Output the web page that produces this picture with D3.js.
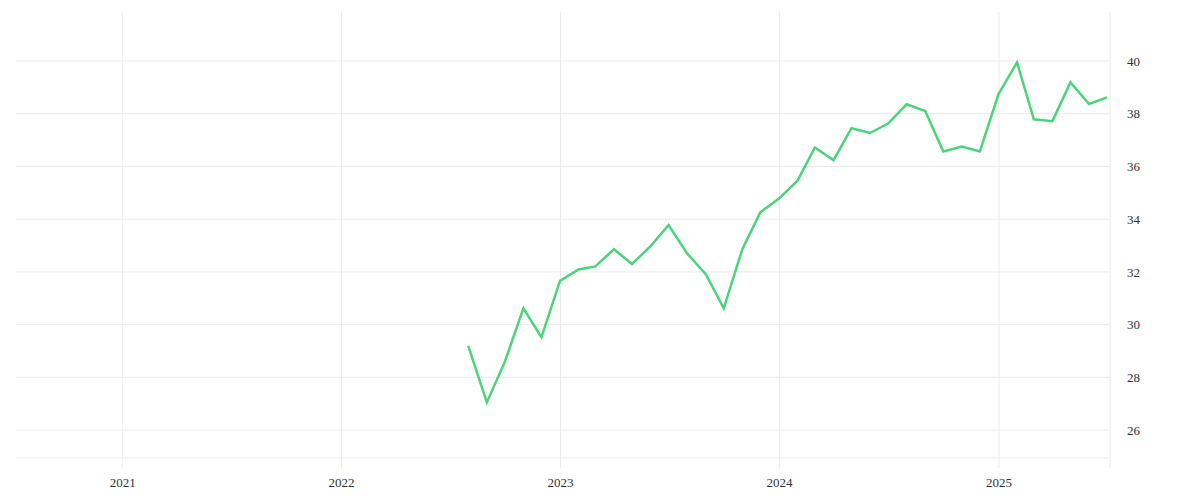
<!DOCTYPE html>
<html>
<head>
<meta charset="utf-8">
<script src="https://cdn.jsdelivr.net/npm/d3@7"></script>
<style>
  body { margin: 0; background: #fff; }
  .tick text { font-family: "Liberation Serif", serif; font-size: 13px; fill: #333; }
</style>
</head>
<body>
<div id="chart"></div>
<script>
//size of the svg
var widthSVG = 1200;
var heightSVG = 500;
//plot area edges (plotTop, not "top": that name is taken by window.top)
var plotLeft = 16, plotRight = 1110, plotTop = 12, plotBottom = 458;

//monthly values, Aug 2022 - Jul 2025
var months = ["2022-08","2022-09","2022-10","2022-11","2022-12",
  "2023-01","2023-02","2023-03","2023-04","2023-05","2023-06","2023-07","2023-08","2023-09","2023-10","2023-11","2023-12",
  "2024-01","2024-02","2024-03","2024-04","2024-05","2024-06","2024-07","2024-08","2024-09","2024-10","2024-11","2024-12",
  "2025-01","2025-02","2025-03","2025-04","2025-05","2025-06","2025-07"];
var values = [29.19, 27.05, 28.59, 30.62, 29.52,
  31.66, 32.09, 32.21, 32.86, 32.30, 32.98, 33.78, 32.70, 31.91, 30.62, 32.86, 34.26,
  34.78, 35.46, 36.72, 36.24, 37.45, 37.27, 37.63, 38.36, 38.10, 36.57, 36.76, 36.57,
  38.74, 39.95, 37.79, 37.72, 39.19, 38.37, 38.62];
var yTicks = [26, 28, 30, 32, 34, 36, 38, 40];
var xTicks = ["2021", "2022", "2023", "2024", "2025"];

var parseMonth = d3.timeParse("%Y-%m");
var parseYear = d3.timeParse("%Y");

var dataset = months.map(function(m, i) {
  return { date: parseMonth(m), value: values[i] };
});

var xScale = d3.scaleTime()
  .domain([new Date(2020, 6, 8), new Date(2025, 6, 6)])
  .range([plotLeft, plotRight]);

var yScale = d3.scaleLinear()
  .domain([24.94, 41.86])
  .range([plotBottom, plotTop]);

var svg = d3.select("#chart")
  .append("svg")
  .attr("width", widthSVG)
  .attr("height", heightSVG);

//horizontal grid
svg.append("g")
  .selectAll("line")
  .data(yTicks)
  .enter()
  .append("line")
  .attr("x1", plotLeft)
  .attr("x2", plotRight)
  .attr("y1", function(d) { return yScale(d); })
  .attr("y2", function(d) { return yScale(d); })
  .attr("stroke", "#ebebeb")
  .attr("stroke-width", 1);

//bottom frame line
svg.append("line")
  .attr("x1", plotLeft).attr("x2", plotRight)
  .attr("y1", plotBottom).attr("y2", plotBottom)
  .attr("stroke", "#ebebeb");

//x axis - ticks go the whole height as grid
var x_axis = d3.axisBottom(xScale)
  .tickValues(xTicks.map(function(t) { return parseYear(t); }))
  .tickFormat(d3.timeFormat("%Y"))
  .tickSize(plotBottom - plotTop + 10)
  .tickPadding(10);

svg.append("g")
  .attr("class", "coord x")
  .attr("transform", "translate(0," + plotTop + ")")
  .call(x_axis)
  .call(function(g) { g.select(".domain").remove(); })
  .call(function(g) { g.selectAll(".tick line").attr("stroke", "#ebebeb"); });

//right border
svg.append("line")
  .attr("x1", plotRight).attr("x2", plotRight)
  .attr("y1", plotTop).attr("y2", plotBottom + 10)
  .attr("stroke", "#ebebeb");

//y axis on the right
var y_axis = d3.axisRight(yScale)
  .tickValues(yTicks)
  .tickSize(0)
  .tickPadding(17);

svg.append("g")
  .attr("class", "coord y")
  .attr("transform", "translate(" + plotRight + ",0)")
  .call(y_axis)
  .call(function(g) { g.select(".domain").remove(); });

//line
var line = d3.line()
  .x(function(d) { return xScale(d.date); })
  .y(function(d) { return yScale(d.value); });

svg.append("path")
  .datum(dataset)
  .attr("fill", "none")
  .attr("stroke", "#4cd47a")
  .attr("stroke-width", 2.5)
  .attr("stroke-linejoin", "miter")
  .attr("d", line);
</script>
</body>
</html>
